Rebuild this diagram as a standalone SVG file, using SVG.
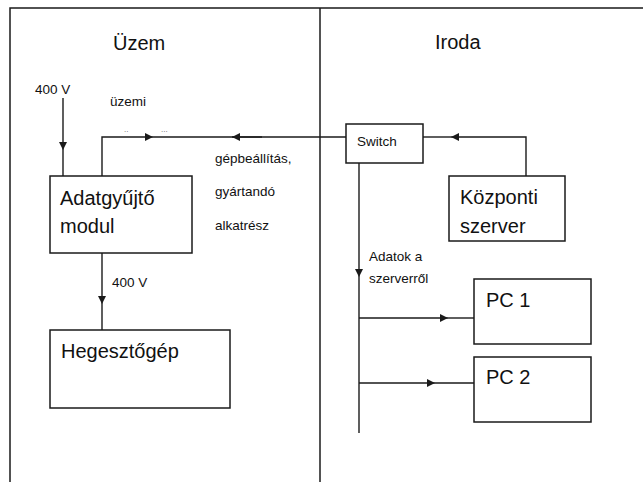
<svg xmlns="http://www.w3.org/2000/svg" width="643" height="482" viewBox="0 0 643 482">
<style>
.f{fill:none;stroke:#1a1a1a;stroke-width:1.5}
.box{fill:#fff;stroke:#1a1a1a;stroke-width:1.5}
.c{fill:none;stroke:#1a1a1a;stroke-width:1.4}
.a{marker-end:url(#ah)}
text{font-family:"Liberation Sans",Arial,sans-serif;fill:#111}
.big{font-size:20px}
.sm{font-size:13.5px}
.dot{font-size:8px;fill:#666}
</style>
<defs>
<marker id="ah" viewBox="0 0 10 10" refX="10" refY="5" markerWidth="9" markerHeight="8" markerUnits="userSpaceOnUse" orient="auto">
<path d="M0,0 L10,5 L0,10 z" fill="#1a1a1a"/>
</marker>
</defs>
<rect width="643" height="482" fill="#fff"/>
<g id="frame">
<path class="f" d="M10,482 V8 H643"/>
<path class="f" d="M320,8 V482"/>
<text class="big" x="113" y="50">Üzem</text>
<text class="big" x="435" y="49">Iroda</text>
</g>
<g id="connectors">
<path class="c a" d="M63,98 V150"/>
<path class="c" d="M63,150 V176"/>
<path class="c a" d="M102,176 V137 H153"/>
<path class="c" d="M153,137 H346"/>
<path class="c a" d="M262,137 H232"/>
<path class="c a" d="M526,176 V137 H451"/>
<path class="c" d="M451,137 H423"/>
<path class="c a" d="M359,163 V277"/>
<path class="c" d="M359,277 V433"/>
<path class="c a" d="M359,318 H448"/>
<path class="c" d="M448,318 H474"/>
<path class="c a" d="M359,383 H435"/>
<path class="c" d="M435,383 H474"/>
<path class="c a" d="M102,253 V304"/>
<path class="c" d="M102,304 V330"/>
<text class="sm" x="35" y="94">400 V</text>
<text class="sm" x="110" y="106">üzemi</text>
<text class="dot" x="124" y="132">..</text>
<text class="dot" x="161" y="132">...</text>
<text class="sm" x="215" y="163">gépbeállítás,</text>
<text class="sm" x="215" y="196">gyártandó</text>
<text class="sm" x="215" y="230">alkatrész</text>
<text class="sm" x="369" y="261">Adatok a</text>
<text class="sm" x="369" y="283">szerverről</text>
<text class="sm" x="112" y="287">400 V</text>
</g>
<g id="adatgyujto">
<rect class="box" x="50" y="176" width="142" height="77"/>
<text class="big" x="60" y="205">Adatgyűjtő</text>
<text class="big" x="60" y="233">modul</text>
</g>
<g id="hegesztogep">
<rect class="box" x="50" y="330" width="180" height="78"/>
<text class="big" x="61" y="358">Hegesztőgép</text>
</g>
<g id="switch">
<rect class="box" x="346" y="124" width="77" height="39"/>
<text class="sm" x="357" y="146">Switch</text>
</g>
<g id="kozponti">
<rect class="box" x="449" y="176" width="116" height="65"/>
<text class="big" x="460" y="204">Központi</text>
<text class="big" x="460" y="233">szerver</text>
</g>
<g id="pc1">
<rect class="box" x="474" y="279" width="117" height="65"/>
<text class="big" x="486" y="307">PC 1</text>
</g>
<g id="pc2">
<rect class="box" x="474" y="357" width="117" height="65"/>
<text class="big" x="486" y="384">PC 2</text>
</g>
</svg>
